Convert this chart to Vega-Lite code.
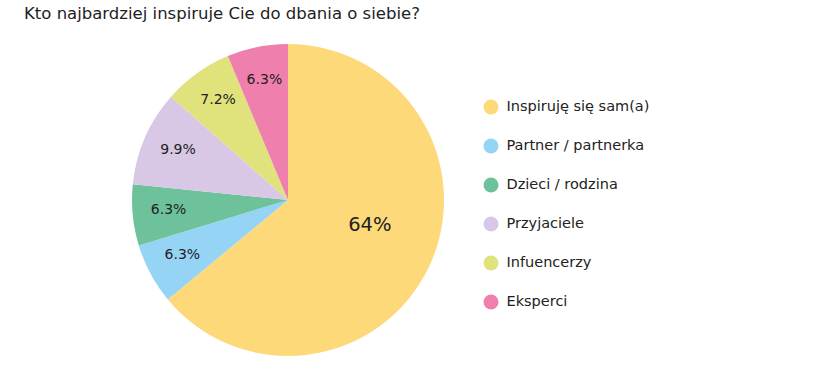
{
  "$schema": "https://vega.github.io/schema/vega-lite/v6.json",
  "width": 576,
  "height": 340,
  "autosize": {"type": "none"},
  "padding": {"top": 30, "left": 0, "right": 251, "bottom": 2},
  "background": "white",
  "title": {
    "text": "Kto najbardziej inspiruje Cie do dbania o siebie?",
    "anchor": "start",
    "frame": "group",
    "fontSize": 16.5,
    "fontWeight": "normal",
    "font": "DejaVu Sans",
    "color": "#222222",
    "offset": 8,
    "dx": 24
  },
  "config": {"view": {"stroke": null}},
  "data": {
    "values": [
      {"kategoria": "Inspiruję się sam(a)", "wartosc": 64, "label": "64%", "kolejnosc": 1},
      {"kategoria": "Partner / partnerka", "wartosc": 6.3, "label": "6.3%", "kolejnosc": 2},
      {"kategoria": "Dzieci / rodzina", "wartosc": 6.3, "label": "6.3%", "kolejnosc": 3},
      {"kategoria": "Przyjaciele", "wartosc": 9.9, "label": "9.9%", "kolejnosc": 4},
      {"kategoria": "Infuencerzy", "wartosc": 7.2, "label": "7.2%", "kolejnosc": 5},
      {"kategoria": "Eksperci", "wartosc": 6.3, "label": "6.3%", "kolejnosc": 6}
    ]
  },
  "encoding": {
    "theta": {"field": "wartosc", "type": "quantitative", "stack": true},
    "order": {"field": "kolejnosc", "type": "quantitative"}
  },
  "layer": [
    {
      "mark": {"type": "arc", "outerRadius": 156},
      "encoding": {
        "color": {
          "field": "kategoria",
          "type": "nominal",
          "sort": ["Inspiruję się sam(a)", "Partner / partnerka", "Dzieci / rodzina", "Przyjaciele", "Infuencerzy", "Eksperci"],
          "scale": {
            "domain": ["Inspiruję się sam(a)", "Partner / partnerka", "Dzieci / rodzina", "Przyjaciele", "Infuencerzy", "Eksperci"],
            "range": ["#FDD97A", "#95D4F4", "#6DC29B", "#D8C8E5", "#E0E27C", "#EF7FAC"]
          },
          "legend": {
            "title": null,
            "orient": "none",
            "legendX": 483.5,
            "legendY": 69.5,
            "symbolType": "circle",
            "symbolSize": 225,
            "symbolStrokeWidth": 0,
            "labelFont": "DejaVu Sans",
            "labelFontSize": 14.5,
            "labelColor": "#222222",
            "labelOffset": 8,
            "rowPadding": 23,
            "labelLimit": 300
          }
        }
      }
    },
    {
      "mark": {"type": "text", "radius": 86, "dx": 4, "dy": -12, "font": "DejaVu Sans", "fontSize": 19.5, "color": "#222222"},
      "encoding": {
        "text": {"condition": {"test": "datum.wartosc > 50", "field": "label"}, "value": ""}
      }
    },
    {
      "mark": {"type": "text", "radius": 120, "dy": -2, "font": "DejaVu Sans", "fontSize": 14, "color": "#222222"},
      "encoding": {
        "text": {"condition": {"test": "datum.wartosc < 50", "field": "label"}, "value": ""}
      }
    }
  ]
}
